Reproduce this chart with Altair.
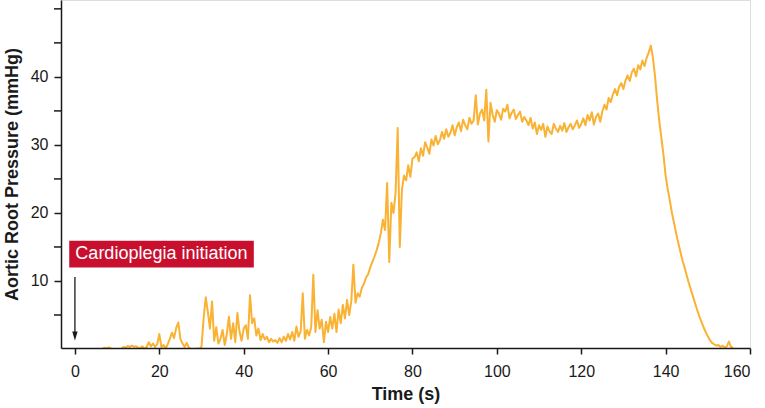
import altair as alt
import pandas as pd

# Sampled aortic root pressure trace (mmHg), one sample every 0.5 s, starting at 6.5 s
START_S = 6.5
STEP_S = 0.5
PRESSURE = [
    # 6.5 - 10
    0, 0.2, 0.1, 0.25, 0.1, 0, 0, 0,
    # 10.5 - 15
    0, 0, 0.3, 0.2, 0.45, 0.3, 0.5, 0.35, 0.4, 0.2,
    # 15.5 - 20
    0.1, 0.4, 0, 0.3, 1.0, 0.4, 0.8, 0.3, 0.7, 2.2,
    # 20.5 - 25
    0.3, 0.6, 0.1, 0.7, 1.5, 2.4, 1.6, 3.1, 3.9, 1.5,
    # 25.5 - 30
    0.8, 0.3, 0.9, 0.2, 0, 0, 0, 0.1, 0, 0.35,
    # 30.5 - 35
    4.5, 7.6, 5.5, 3.0, 7.0, 1.2, 3.2, 0.8, 1.5, 2.8,
    # 35.5 - 40
    0.6, 2.2, 4.75, 1.5, 3.8, 1.0, 5.3, 2.6, 1.2, 3.0,
    # 40.5 - 45
    3.5, 1.5, 7.9, 3.8, 4.5, 2.0, 3.0, 1.3, 2.2, 1.4,
    # 45.5 - 50
    1.8, 1.0, 1.5, 1.1, 1.3, 0.9, 1.6, 1.0, 1.8, 1.2,
    # 50.5 - 55
    2.2, 1.4, 2.5, 1.2, 3.3, 1.8, 2.6, 8.2, 1.5, 2.8,
    # 55.5 - 60
    2.0, 3.2, 10.9, 2.5, 5.7, 3.0, 4.3, 1.0, 4.0, 2.5,
    # 60.5 - 65
    4.7, 3.0, 5.2, 2.5, 5.8, 3.8, 6.5, 4.5, 7.2, 5.0,
    # 65.5 - 70
    7.0, 12.4, 6.8, 8.2, 7.7, 9.0, 9.6, 10.5, 11.0, 12.0,
    # 70.5 - 75
    12.8, 13.6, 14.5, 15.6, 17.0, 19.0, 17.5, 24.4, 12.8, 21.5,
    # 75.5 - 80
    20.0, 23.0, 32.5, 15.0, 23.4, 25.5, 24.8, 27.0, 25.3, 28.0,
    # 80.5 - 85
    28.2, 28.9, 27.6, 29.5, 28.4, 30.4, 29.6, 28.7, 30.8, 29.9,
    # 85.5 - 90
    31.3, 30.1, 30.7, 31.9, 30.9, 32.3, 31.2, 31.8, 32.9, 31.4,
    # 90.5 - 95
    32.6, 33.3, 32.0, 33.7, 32.9, 32.3, 34.0, 33.1, 33.6, 37.3,
    # 95.5 - 100
    33.0, 34.6, 35.2, 33.6, 38.1, 30.5, 36.2, 34.4, 33.4, 35.1,
    # 100.5 - 105
    34.6, 33.7, 35.3, 34.9, 35.9, 33.9, 34.7, 35.2, 33.8, 34.4,
    # 105.5 - 110
    34.9, 33.4, 34.1, 33.6, 32.9, 34.0, 32.4, 33.3, 31.6, 32.9,
    # 110.5 - 115
    32.2, 33.1, 31.2, 32.7, 32.0, 31.6, 33.1, 32.4, 31.9, 32.8,
    # 115.5 - 120
    32.1, 33.2, 31.9, 32.6, 33.1, 32.3, 32.9, 33.6, 32.5, 33.1,
    # 120.5 - 125
    33.9, 32.9, 34.4, 33.6, 34.8, 33.0, 34.1, 34.6, 33.4, 34.9,
    # 125.5 - 130
    35.9, 35.2, 36.9, 36.3, 37.4, 38.2, 37.3, 38.6, 39.1, 38.2,
    # 130.5 - 135
    39.5, 40.2, 39.4, 40.7, 41.2, 40.1, 41.7, 41.1, 42.4, 41.6,
    # 135.5 - 140
    42.8, 43.6, 44.6, 42.8, 40.0, 36.5, 33.5, 31.0, 28.5, 25.5,
    # 140.5 - 145
    23.5, 21.8, 20.0, 18.5, 17.0, 15.6, 14.3, 13.0, 12.0, 10.8,
    # 145.5 - 150
    9.7, 8.7, 7.7, 6.7, 5.7, 4.8, 4.0, 3.2, 2.5, 1.9,
    # 150.5 - 156
    1.3, 0.9, 0.7, 0.5, 0.6, 0.3, 0.5, 0.2, 0.4, 1.1, 0.3, 0.2,
]

X_TICKS = [0, 20, 40, 60, 80, 100, 120, 140, 160]
Y_TICKS = [10, 20, 30, 40]
Y_MINOR_TICKS = [5, 15, 25, 35, 45, 50]
ANNOTATION = "Cardioplegia initiation"

df = pd.DataFrame({
    "time": [START_S + STEP_S * i for i in range(len(PRESSURE))],
    "pressure": PRESSURE,
})
minor_df = pd.DataFrame({"tick": Y_MINOR_TICKS})

FONT = "Liberation Sans"
INK = "#1a1a1a"
x_scale = alt.Scale(domain=[-3.3, 160], nice=False, zero=False)
y_scale = alt.Scale(domain=[0.15, 51.3], nice=False, zero=False)

x_axis = alt.Axis(
    title="Time (s)", values=X_TICKS, grid=False, zindex=1, labelOverlap=False,
    domainColor=INK, domainWidth=1.5, tickColor=INK, tickWidth=1.5,
    tickSize=6, labelPadding=9, labelFontSize=16, labelColor=INK,
    titleFontSize=18, titleFontWeight="bold", titleColor=INK, titlePadding=6,
    labelFont=FONT, titleFont=FONT,
)
y_axis = alt.Axis(
    title="Aortic Root Pressure (mmHg)", values=Y_TICKS, grid=False, zindex=1,
    labelOverlap=False,
    domainColor=INK, domainWidth=1.5, tickColor=INK, tickWidth=1.5,
    tickSize=7, labelPadding=6, labelFontSize=16, labelColor=INK,
    titleFontSize=18, titleFontWeight="bold", titleColor=INK, titlePadding=9,
    labelFont=FONT, titleFont=FONT,
)

line = alt.Chart(df).mark_line(
    color="#F9B233", strokeWidth=2.0, strokeJoin="round", clip=True
).encode(
    x=alt.X("time:Q", scale=x_scale, axis=x_axis),
    y=alt.Y("pressure:Q", scale=y_scale, axis=y_axis),
)

minor = alt.Chart(minor_df).mark_rule(color=INK, strokeWidth=1.5).encode(
    x=alt.value(-7), x2=alt.value(0),
    y=alt.Y("tick:Q", scale=y_scale, axis=y_axis),
)

one = pd.DataFrame({"a": [0]})
box = alt.Chart(one).mark_rect(color="#C8102E").encode(
    x=alt.datum(-1.35, scale=x_scale), x2=alt.datum(42.4),
    y=alt.datum(12.0, scale=y_scale), y2=alt.datum(15.9),
)
label = alt.Chart(one).mark_text(
    text=ANNOTATION, color="white", fontSize=18, font=FONT,
    align="center", baseline="middle",
).encode(
    x=alt.datum(20.5, scale=x_scale), y=alt.datum(13.95, scale=y_scale),
)
arrow_shaft = alt.Chart(one).mark_rule(color=INK, strokeWidth=1.3).encode(
    x=alt.datum(0, scale=x_scale), y=alt.datum(10.6, scale=y_scale), y2=alt.datum(2.2),
)
arrow_head = alt.Chart(one).mark_point(
    shape="M-0.6,-1L0.6,-1L0,1Z", size=81, filled=True, color=INK, opacity=1,
).encode(
    x=alt.datum(0, scale=x_scale), y=alt.datum(1.9, scale=y_scale),
)

chart = alt.layer(line, minor, box, label, arrow_shaft, arrow_head).properties(
    width=689, height=348,
    padding={"left": 61, "top": 0, "right": 15, "bottom": 60},
    autosize=alt.AutoSizeParams(type="none"),
).configure_view(stroke=None).configure(background="white")

chart.save("out.html", embed_options={"renderer": "svg", "actions": False})
